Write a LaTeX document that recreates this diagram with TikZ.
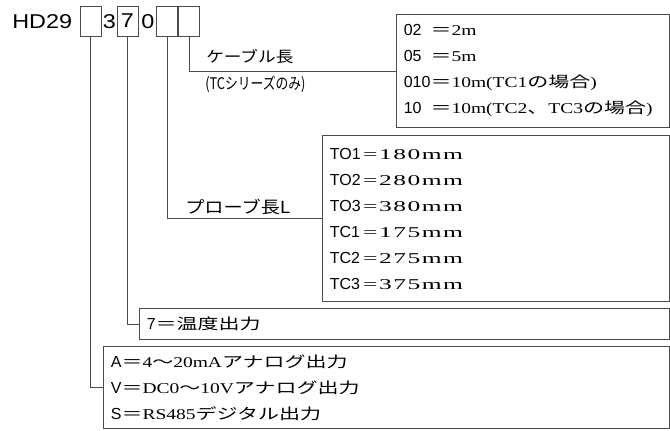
\documentclass[tikz,border=0pt]{standalone}
\usepackage{fontspec}
\setmainfont{Liberation Serif}[FakeStretch=1.3]
\newfontfamily\fwfont{Liberation Serif}[FakeStretch=1.7,LetterSpace=10]
\newfontfamily\codefont{Liberation Sans}
\newfontfamily\hdfont{Liberation Sans}[FakeStretch=1.17]
\newfontfamily\jvfont{Noto Sans CJK JP}[FakeStretch=1.4]
\newfontfamily\jlfont{Noto Sans CJK JP}[FakeStretch=1.15]
\newfontfamily\jpfont{Noto Sans CJK JP}[FakeStretch=0.8]
\definecolor{linegray}{gray}{0.3}
\newcommand\jv[1]{{\jvfont #1}}
\newcommand\fw[1]{{\fwfont #1}}
\newcommand\cd[1]{{\codefont\fontsize{12}{19.5}\selectfont #1}}
\newcommand\cdw[2]{\makebox[#1][l]{\cd{#2}}}
\tikzset{
  keybox/.style={rectangle,draw=linegray,line width=0.75pt,minimum width=15.75pt,minimum height=22.5pt,inner sep=0pt,font=\hdfont\fontsize{15}{18}\selectfont},
  keydigit/.style={inner sep=0pt,font=\hdfont\fontsize{15}{18}\selectfont},
  lbl/.style={anchor=west,inner sep=0pt,font=\fontsize{11.5}{14}\selectfont},
  optbox/.style={rectangle,draw=linegray,line width=0.75pt,anchor=north west,inner xsep=5.5pt,inner ysep=0pt,align=left,font=\fontsize{11.25}{19.5}\selectfont},
  conn/.style={draw=linegray,line width=0.75pt}
}
\begin{document}
\begin{tikzpicture}[x=0.75pt,y=-0.75pt]
\useasboundingbox (0,0) rectangle (670,430);
% model code
\node (HD) at (12,22) [keydigit,anchor=west] {HD29};
\node (C1) at (90.5,21) [keybox] {};
\node (K3) at (109.5,22) [keydigit] {3};
\node (C2) at (127.5,21) [keybox] {7};
\node (K0) at (148,22) [keydigit] {0};
\node (C3) at (167,21) [keybox] {};
\node (C4) at (189,21) [keybox] {};
% option boxes
\node (CL) at (396,14) [optbox,text width=193.75pt,minimum height=84.75pt] {\cdw{20pt}{02}\jv{＝}2m\\\cdw{20pt}{05}\jv{＝}5m\\\cdw{20pt}{010}\jv{＝}10m(TC1\jv{の場合})\\\cdw{20pt}{10}\jv{＝}10m(TC2\jv{、}TC3\jv{の場合})};
\node (PL) at (322,135) [optbox,text width=249.25pt,minimum height=124.5pt] {\cdw{25pt}{TO1}\fw{=180mm}\\\cdw{25pt}{TO2}\fw{=280mm}\\\cdw{25pt}{TO3}\fw{=380mm}\\\cdw{25pt}{TC1}\fw{=175mm}\\\cdw{25pt}{TC2}\fw{=275mm}\\\cdw{25pt}{TC3}\fw{=375mm}};
\node (TO) at (139,308) [optbox,text width=386.5pt,minimum height=23.25pt] {\cd{7}\jv{＝温度出力}};
\node (SO) at (103,346) [optbox,text width=413.5pt,minimum height=61.5pt] {\cd{A}\jv{＝}4\jv{～}20mA\jv{アナログ出力}\\\cd{V}\jv{＝}DC0\jv{～}10V\jv{アナログ出力}\\\cd{S}\jv{＝}RS485\jv{デジタル出力}};
% labels
\node (CLT) at (206,57) [lbl] {\jlfont ケーブル長};
\node (CLS) at (205,84) [lbl,font=\fontsize{12}{14}\selectfont] {\jpfont (TCシリーズのみ)};
\node (PLT) at (185,207) [lbl,font=\fontsize{12.5}{14}\selectfont] {\jlfont プローブ長L};
% connectors
\draw[conn] (C4) |- (CL);
\draw[conn] (C3) |- (PL);
\draw[conn] (C2) |- (TO);
\draw[conn] (C1) |- (SO);
\end{tikzpicture}
\end{document}
